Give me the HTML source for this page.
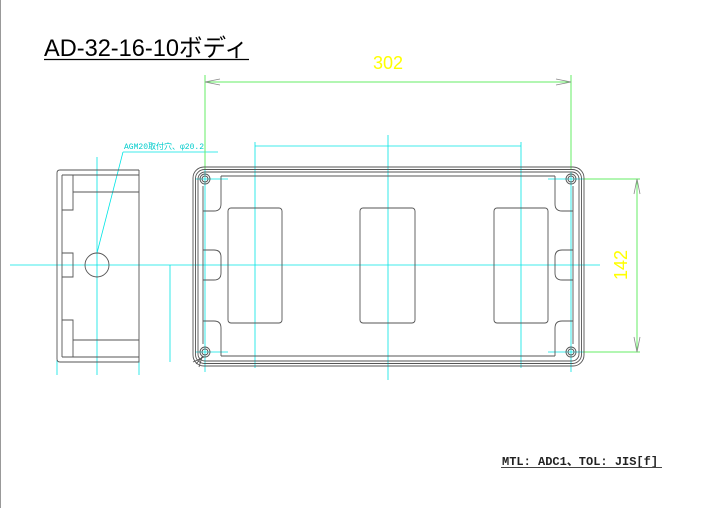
<!DOCTYPE html>
<html><head><meta charset="utf-8"><style>
body{margin:0;background:#fff;width:720px;height:508px;overflow:hidden}
svg{display:block}
</style></head><body>
<svg width="720" height="508" viewBox="0 0 720 508" xmlns="http://www.w3.org/2000/svg">
<line x1="0.5" y1="0" x2="0.5" y2="508" stroke="#999" stroke-width="1"/>
<text x="44" y="56" textLength="204" lengthAdjust="spacingAndGlyphs" font-family="'Liberation Sans','Noto Sans CJK JP',sans-serif" font-size="24" fill="#000">AD-32-16-10ボディ</text>
<line x1="44" y1="59.5" x2="249" y2="59.5" stroke="#000" stroke-width="1.3"/>

<g stroke="#00e5e5" stroke-width="0.8" fill="none">
<line x1="10" y1="265" x2="600" y2="265"/>
<line x1="388" y1="135" x2="388" y2="380"/>
<line x1="255" y1="142" x2="255" y2="368"/>
<line x1="521" y1="142" x2="521" y2="368"/>
<line x1="255" y1="146" x2="521" y2="146"/>
<line x1="205" y1="140" x2="205" y2="372"/>
<line x1="571" y1="172" x2="571" y2="372"/>
<line x1="195" y1="179" x2="228" y2="179"/>
<line x1="195" y1="352" x2="228" y2="352"/>
<line x1="548" y1="179" x2="583" y2="179"/>
<line x1="548" y1="352" x2="583" y2="352"/>
<line x1="97" y1="157" x2="97" y2="375"/>
<line x1="57" y1="360" x2="57" y2="375"/>
<line x1="139" y1="360" x2="139" y2="375"/>
<line x1="170" y1="265" x2="170" y2="362"/>
<line x1="97" y1="253" x2="123" y2="152"/>
<line x1="123" y1="152" x2="218" y2="152"/>
</g>
<text x="124" y="149" font-family="'Liberation Mono','Noto Sans CJK JP',monospace" font-size="8" fill="#00cccc">AGM20取付穴、φ20.2</text>

<g stroke="#66ee66" stroke-width="1" fill="none">
<line x1="205" y1="75" x2="205" y2="170"/>
<line x1="571" y1="75" x2="571" y2="170"/>
<line x1="205" y1="82" x2="571" y2="82"/>
<line x1="583" y1="179" x2="640" y2="179"/>
<line x1="583" y1="352" x2="640" y2="352"/>
<line x1="637" y1="179" x2="637" y2="352"/>
</g>
<g stroke="#888" stroke-width="0.8" fill="none">
<polyline points="220,79 205,82 220,85"/>
<polyline points="556,79 571,82 556,85"/>
<polyline points="634,194 637,179 640,194"/>
<polyline points="634,337 637,352 640,337"/>
</g>
<text x="388" y="69" text-anchor="middle" font-family="'Liberation Sans',sans-serif" font-size="18" fill="#ffff00">302</text>
<text transform="translate(627,265) rotate(-90)" text-anchor="middle" font-family="'Liberation Sans',sans-serif" font-size="18" fill="#ffff00">142</text>

<g stroke="#555" stroke-width="0.9" fill="none">
<rect x="193" y="167" width="391" height="199" rx="11"/>
<rect x="195.5" y="169.5" width="386" height="194" rx="9"/>
<rect x="198" y="172" width="381" height="189" rx="7"/>
<path d="M221,176 H555 M203,186 V344 M221,356 H555 M573,186 V344"/>
<path d="M221,176 V204 Q221,211 214,211 H203"/>
<path d="M221,356 V328 Q221,321 214,321 H203"/>
<path d="M555,176 V204 Q555,211 562,211 H573"/>
<path d="M555,356 V328 Q555,321 562,321 H573"/>
<path d="M203,250 H214 Q221,250 221,257 V273 Q221,280 214,280 H203"/>
<path d="M573,250 H562 Q555,250 555,257 V273 Q555,280 562,280 H573"/>
<rect x="228" y="208" width="54" height="115" rx="3"/>
<rect x="360" y="208" width="55" height="115" rx="3"/>
<rect x="494" y="208" width="54" height="115" rx="3"/>
<circle cx="205" cy="179" r="5"/><circle cx="205" cy="179" r="3"/>
<circle cx="571" cy="179" r="5"/><circle cx="571" cy="179" r="3"/>
<circle cx="205" cy="352" r="5"/><circle cx="205" cy="352" r="3"/>
<circle cx="571" cy="352" r="5"/><circle cx="571" cy="352" r="3"/>
<path d="M203,356 L196,364 M202,357 L199,367 M204,357 L193,362"/>
</g>

<g stroke="#555" stroke-width="0.9" fill="none">
<path d="M139,170 H60 Q57,170 57,173 V359 Q57,362 60,362 H139 V170"/>
<path d="M62,175 V357 M62,175 H139 M62,357 H139"/>
<path d="M73,175 V210 H62 M73,192 H139"/>
<path d="M73,357 V320 H62 M73,340 H139"/>
<path d="M62,253 H73 V277 H62"/>
<circle cx="97" cy="265" r="12"/>
</g>

<text x="502" y="465" font-family="'Liberation Mono','Noto Sans CJK JP',monospace" font-size="12" font-weight="bold" fill="#222">MTL: ADC1、TOL: JIS[f]</text>
<line x1="501" y1="467.5" x2="662" y2="467.5" stroke="#444" stroke-width="1"/>
</svg>
</body></html>
